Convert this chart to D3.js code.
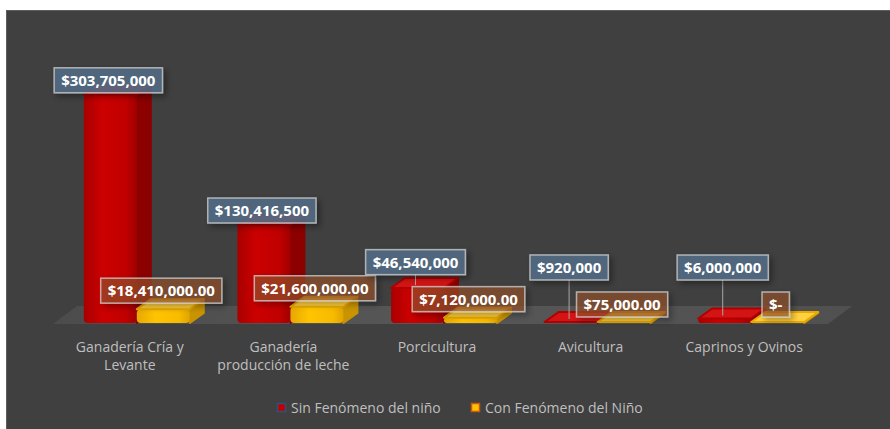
<!DOCTYPE html>
<html>
<head>
<meta charset="utf-8">
<script src="https://cdn.jsdelivr.net/npm/d3@7"></script>
<style>
  html, body { margin: 0; padding: 0; background: #ffffff; }
  svg { display: block; }
</style>
</head>
<body>
<div id="chart"></div>
<script>
// data
const categories = ['Ganadería Cría y Levante', 'Ganadería producción de leche', 'Porcicultura', 'Avicultura', 'Caprinos y Ovinos'];
const categoryLines = [['Ganadería Cría y', 'Levante'], ['Ganadería', 'producción de leche'], ['Porcicultura'], ['Avicultura'], ['Caprinos y Ovinos']];
const seriesNames = ['Sin Fenómeno del niño', 'Con Fenómeno del Niño'];
const sinFenomeno = [303705000, 130416500, 46540000, 920000, 6000000];
const conFenomeno = [18410000, 21600000, 7120000, 75000, 0];

const width = 890,
    height = 429,
    panel = { x: 6, y: 10 },
    base = 323,
    depth = { dx: 14, dy: -10 },
    floorDepth = { dx: 24, dy: -18 },
    font = '"Open Sans", "DejaVu Sans", sans-serif';

const svg = d3.select('#chart')
    .append('svg')
        .attr('width', width)
        .attr('height', height);

const defs = svg.append('defs');

function hGrad(id, stops) {
    const g = defs.append('linearGradient')
        .attr('id', id)
        .attr('x1', '0%').attr('x2', '100%')
        .attr('y1', '0%').attr('y2', '0%');
    g.selectAll('stop')
        .data(stops)
        .enter()
        .append('stop')
            .attr('offset', d => d[0])
            .style('stop-color', d => d[1]);
}
hGrad('redFront', [['0%', '#a80000'], ['35%', '#cc0000'], ['80%', '#c00000'], ['100%', '#a00000']]);
hGrad('yelFront', [['0%', '#e6a800'], ['35%', '#ffc400'], ['80%', '#f8bb00'], ['100%', '#e0a400']]);
hGrad('floorGrad', [['0%', '#4c4c4c'], ['50%', '#575757'], ['100%', '#505050']]);

const shadow = defs.append('filter')
    .attr('id', 'shadow')
    .attr('x', '-20%').attr('y', '-40%')
    .attr('width', '150%').attr('height', '200%');
shadow.append('feDropShadow')
    .attr('dx', 3).attr('dy', 3)
    .attr('stdDeviation', 3)
    .attr('flood-color', '#000')
    .attr('flood-opacity', 0.45);

// background panel
svg.append('rect')
    .attr('x', panel.x)
    .attr('y', panel.y)
    .attr('width', width - panel.x)
    .attr('height', height - panel.y)
    .attr('fill', '#404040');
svg.append('path')
    .attr('d', `M${panel.x + 0.5},${height} V${panel.y + 0.5} H${width}`)
    .attr('fill', 'none')
    .attr('stroke', '#5e5e5e')
    .attr('stroke-width', 1);

// scales
const x = d3.scaleBand()
    .domain(categories)
    .range([60, 828])
    .paddingInner(0.31)
    .paddingOuter(0.155);

const xSub = d3.scaleBand()
    .domain(seriesNames)
    .range([0, x.bandwidth()]);

const y = d3.scaleLinear()
    .domain([0, 350000000])
    .range([base, 60]);

// floor
const floorLeft = 53, floorRight = 828;
svg.append('polygon')
    .attr('points', [
        [floorLeft, base + 1],
        [floorLeft + floorDepth.dx, base + 1 + floorDepth.dy],
        [floorRight + floorDepth.dx, base + 1 + floorDepth.dy],
        [floorRight, base + 1]
    ].join(' '))
    .attr('fill', 'url(#floorGrad)');

const styles = [
    { front: 'url(#redFront)', side: '#8c0000', top: '#d41414', edge: '#b00000' },
    { front: 'url(#yelFront)', side: '#c99400', top: '#ffd040', edge: '#eaa900' }
];

function drawBar(g, x0, w, v, st) {
    const yt = Math.min(y(v), base - 1);
    const dx = depth.dx, dy = depth.dy;
    g.append('polygon')
        .attr('points', [[x0 + w, yt], [x0 + w + dx, yt + dy], [x0 + w + dx, base + dy], [x0 + w, base]].join(' '))
        .attr('fill', st.side)
        .attr('stroke', st.side)
        .attr('stroke-width', 2)
        .attr('stroke-linejoin', 'round');
    g.append('rect')
        .attr('x', x0)
        .attr('y', yt)
        .attr('width', w)
        .attr('height', base - yt)
        .attr('rx', Math.min(4, (base - yt) / 2))
        .attr('fill', st.front);
    g.append('polygon')
        .attr('points', [[x0, yt], [x0 + dx, yt + dy], [x0 + w + dx, yt + dy], [x0 + w, yt]].join(' '))
        .attr('fill', st.top)
        .attr('stroke', st.edge)
        .attr('stroke-width', 2)
        .attr('stroke-linejoin', 'round');
}

const bars = svg.append('g');
categories.forEach(function(c, i) {
    const g = bars.append('g');
    drawBar(g, x(c) + xSub(seriesNames[0]), xSub.bandwidth(), sinFenomeno[i], styles[0]);
    drawBar(g, x(c) + xSub(seriesNames[1]), xSub.bandwidth(), conFenomeno[i], styles[1]);
});

// category labels
svg.append('g')
    .attr('transform', `translate(-7, ${base})`)
    .call(d3.axisBottom(x).tickSize(0).tickPadding(0))
    .call(g => g.select('.domain').remove())
    .call(g => g.selectAll('text').each(function(d, i) {
        const t = d3.select(this)
            .text(null)
            .attr('y', 29)
            .attr('fill', '#bfbfbf')
            .attr('font-family', font)
            .attr('font-size', '14px')
            .attr('dy', null);
        categoryLines[i].forEach(function(line, k) {
            t.append('tspan')
                .attr('x', 0)
                .attr('dy', k === 0 ? 0 : 18)
                .text(line);
        });
    }));

// data labels
const fmtSin = d3.format('$,'),
    fmtCon = v => v === 0 ? '$-' : d3.format('$,.2f')(v),
    boxH = 25;

function dataLabel(cx, bottom, text, fill) {
    const g = svg.append('g');
    const t = g.append('text')
        .attr('x', cx)
        .attr('y', bottom - boxH / 2)
        .attr('dy', '0.36em')
        .attr('text-anchor', 'middle')
        .attr('font-family', font)
        .attr('font-weight', 'bold')
        .attr('font-size', '15px')
        .attr('fill', '#ffffff')
        .text(text);
    const w = t.node().getComputedTextLength() + 14;
    g.insert('rect', 'text')
        .attr('x', cx - w / 2)
        .attr('y', bottom - boxH)
        .attr('width', w)
        .attr('height', boxH)
        .attr('fill', fill)
        .attr('stroke', 'rgba(210,210,210,0.75)')
        .attr('stroke-width', 1.5)
        .attr('filter', 'url(#shadow)');
}

categories.forEach(function(c, i) {
    const w = xSub.bandwidth();
    const cxCon = x(c) + xSub(seriesNames[1]) + w / 2 - 2;
    const cxSin = x(c) + xSub(seriesNames[0]) + w / 2 - 2;
    const conBottom = Math.min(y(conFenomeno[i]), base) - 6;
    const sinTop = Math.min(y(sinFenomeno[i]), base - 1);
    const sinBottom = Math.min(sinTop - 2, conBottom - boxH - 12);
    if (sinBottom < sinTop - 4) {
        svg.append('line')
            .attr('x1', cxSin).attr('x2', cxSin)
            .attr('y1', sinBottom)
            .attr('y2', sinTop - 3)
            .attr('stroke', '#a6a6a6')
            .attr('stroke-width', 1);
    }
    dataLabel(cxSin, sinBottom, fmtSin(sinFenomeno[i]), 'rgba(84,108,135,0.85)');
    dataLabel(cxCon, conBottom, fmtCon(conFenomeno[i]), 'rgba(152,84,46,0.62)');
});

// legend
const legendItems = [
    { name: seriesNames[0], x: 277, fill: '#c00000', stroke: '#2f4f7f' },
    { name: seriesNames[1], x: 471, fill: '#ffc000', stroke: '#c55a11' }
];
const legend = svg.append('g').attr('transform', 'translate(0, 408)');
legendItems.forEach(function(d) {
    legend.append('rect')
        .attr('x', d.x + 0.5)
        .attr('y', -4.5)
        .attr('width', 8)
        .attr('height', 8)
        .attr('fill', d.fill)
        .attr('stroke', d.stroke)
        .attr('stroke-width', 1.5);
    legend.append('text')
        .attr('x', d.x + 14)
        .attr('y', 0)
        .attr('dy', '0.35em')
        .attr('font-family', font)
        .attr('font-size', '14px')
        .attr('fill', '#bfbfbf')
        .text(d.name);
});
</script>
</body>
</html>
